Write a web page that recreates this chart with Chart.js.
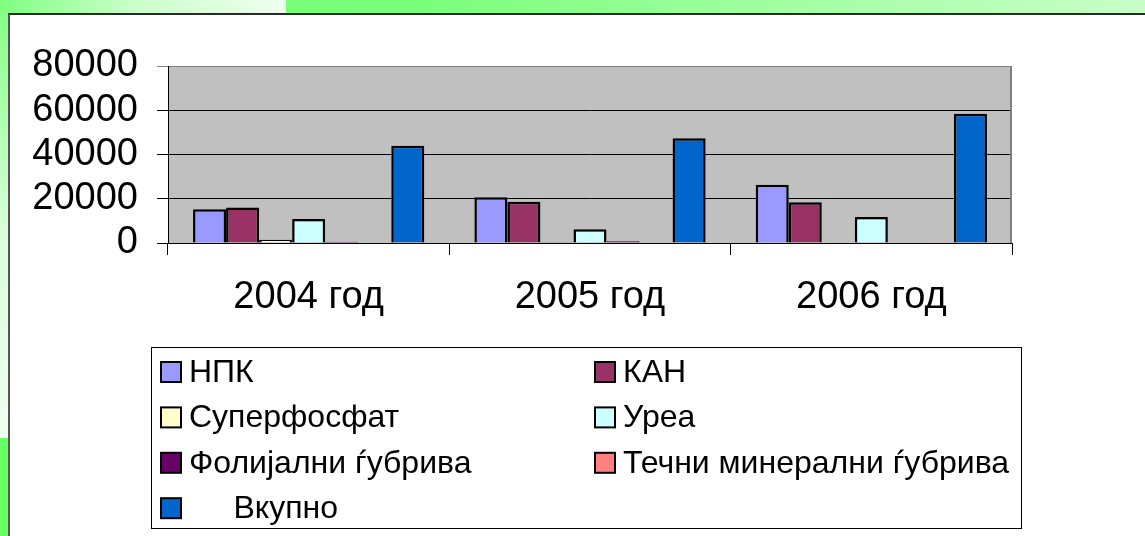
<!DOCTYPE html>
<html>
<head>
<meta charset="utf-8">
<script src="https://cdn.jsdelivr.net/npm/chart.js@4"></script>
<style>
html,body{margin:0;padding:0;}
body{width:1145px;height:536px;position:relative;overflow:hidden;background:#fff;}
.bg{position:absolute;}
#topLeft{left:0;top:0;width:286px;height:14px;background:linear-gradient(to right,#7fff7f 0%,#c8ffc8 45%,#f0fff0 100%);}
#topRight{left:286px;top:0;width:859px;height:14px;background:linear-gradient(to right,#78ff78 0%,#7aff7a 15%,#c8ffc8 100%);}
#leftTop{left:0;top:14px;width:9px;height:424px;background:linear-gradient(to bottom,#88ff88 0%,#d8ffd8 50%,#f0fff0 100%);}
#leftBottom{left:0;top:438px;width:9px;height:98px;background:#66ff66;}
#panel{left:8px;top:13px;width:1150px;height:540px;background:#fff;border-top:2px solid #2a2a2a;border-left:2px solid #555;}
#c{position:absolute;left:0;top:0;}
</style>
</head>
<body>
<div class="bg" id="topLeft"></div>
<div class="bg" id="topRight"></div>
<div class="bg" id="leftTop"></div>
<div class="bg" id="leftBottom"></div>
<div class="bg" id="panel"></div>
<canvas id="c" width="1145" height="536"></canvas>
<script>
const categories = ['2004 год', '2005 год', '2006 год'];
const seriesNames = ['НПК', 'КАН', 'Суперфосфат', 'Уреа', 'Фолијални ѓубрива', 'Течни минерални ѓубрива', '     Вкупно'];
const npk = [15200, 20700, 26300];
const kan = [16000, 18700, 18400];
const superfosfat = [1500, 300, 200];
const urea = [10800, 6200, 11700];
const folijalni = [600, 800, 200];
const tecni = [0, 0, 100];
const vkupno = [44000, 47300, 58400];
const yTicks = [0, 20000, 40000, 60000, 80000];
const seriesColors = ['#9999FF', '#993366', '#FFFFCC', '#CCFFFF', '#660066', '#FF8080', '#0066CC'];

const seriesValues = [npk, kan, superfosfat, urea, folijalni, tecni, vkupno];

const plotBg = {
  id: 'plotBg',
  beforeDraw(chart) {
    const {ctx, chartArea: a} = chart;
    ctx.save();
    ctx.fillStyle = '#c0c0c0';
    ctx.fillRect(a.left, a.top, a.right - a.left, a.bottom - a.top);
    ctx.restore();
  },
  beforeDatasetsDraw(chart) {
    const {ctx, chartArea: a} = chart;
    ctx.save();
    ctx.strokeStyle = '#808080';
    ctx.lineWidth = 2;
    ctx.beginPath();
    ctx.moveTo(a.right - 1, a.top);
    ctx.lineTo(a.right - 1, a.bottom);
    ctx.stroke();
    ctx.restore();
  }
};

const gridLegend = {
  id: 'gridLegend',
  afterDraw(chart) {
    const ctx = chart.ctx;
    ctx.save();
    ctx.strokeStyle = '#000';
    ctx.lineWidth = 1;
    ctx.strokeRect(151.5, 347.5, 870, 181);
    const colX = [161, 595];
    ctx.font = '32px "Liberation Sans", Arial, sans-serif';
    ctx.textBaseline = 'middle';
    ctx.fillStyle = '#000';
    chart.data.datasets.forEach((ds, i) => {
      const col = i % 2, row = Math.floor(i / 2);
      const x = colX[col];
      const y = 372 + row * 45.4;
      ctx.fillStyle = ds.backgroundColor;
      ctx.fillRect(x, y - 10, 20, 20);
      ctx.lineWidth = 2;
      ctx.strokeStyle = '#000';
      ctx.strokeRect(x, y - 10, 20, 20);
      ctx.fillStyle = '#000';
      ctx.fillText(ds.label, x + 28, y + 1);
    });
    ctx.restore();
  }
};

new Chart(document.getElementById('c'), {
  type: 'bar',
  data: {
    labels: categories,
    datasets: seriesNames.map((name, i) => ({
      label: name,
      data: seriesValues[i],
      backgroundColor: seriesColors[i],
      borderColor: '#000',
      borderWidth: 2.5,
      categoryPercentage: 0.822,
      barPercentage: 1.0
    }))
  },
  options: {
    responsive: false,
    animation: false,
    layout: {padding: {left: 0, top: 66, right: 133, bottom: 200}},
    plugins: {legend: {display: false}, tooltip: {enabled: false}},
    scales: {
      x: {
        afterFit(scale) { scale.height = 93; },
        grid: {drawOnChartArea: false, drawTicks: true, tickLength: 12, color: '#000', lineWidth: 1},
        border: {color: '#000', width: 1},
        ticks: {color: '#000', padding: 20, font: {family: '"Liberation Sans", Arial, sans-serif', size: 38}}
      },
      y: {
        min: 0, max: 80000,
        afterFit(scale) { scale.width = 168; },
        afterBuildTicks(scale) { scale.ticks = yTicks.map(v => ({value: v})); },
        grid: {
          color: (ctx) => (ctx.tick && ctx.tick.value === 80000) ? '#808080' : '#000',
          lineWidth: 1, tickLength: 11, drawTicks: true
        },
        border: {color: '#000', width: 1},
        ticks: {
          color: '#000', padding: 19, autoSkip: false,
          callback: (v) => String(v),
          font: {family: '"Liberation Sans", Arial, sans-serif', size: 38}
        }
      }
    }
  },
  plugins: [plotBg, gridLegend]
});
</script>
</body>
</html>
